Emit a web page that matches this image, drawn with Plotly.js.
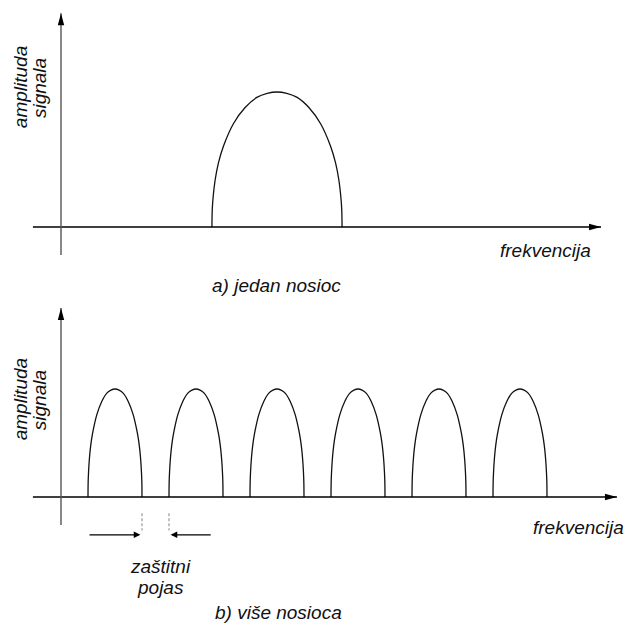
<!DOCTYPE html>
<html>
<head>
<meta charset="utf-8">
<script src="https://cdn.plot.ly/plotly-3.0.1.min.js"></script>
<style>html,body{margin:0;padding:0;background:#fff;}#chart{width:625px;height:627px;}</style>
</head>
<body>
<div id="chart"></div>
<script>
// ---- data (frequency units: 1 = guard-band width; amplitude: bottom carrier peak = 1) ----
// normalised hump profile (offset from centre / half-width, relative amplitude)
const profileU = [-1, -0.995, -0.98, -0.95, -0.9, -0.826, -0.67, -0.49, -0.31, -0.15, 0, 0.15, 0.31, 0.49, 0.67, 0.826, 0.9, 0.95, 0.98, 0.995, 1];
const profileH = [0, 0.13, 0.23, 0.35, 0.475, 0.595, 0.765, 0.885, 0.96, 0.99, 1, 0.99, 0.96, 0.885, 0.765, 0.595, 0.475, 0.35, 0.23, 0.13, 0];

// a) single carrier
const singleCenter = [8.0];
const singleHalfWidth = 2.41;
const singleAmplitude = 1.25;

// b) multiple carriers
const multiCenters = [2, 5, 8, 11, 14, 17];
const multiHalfWidth = 1.0;
const multiAmplitude = 1.0;

// guard band edges
const guardBand = [3, 4];

// axis extents
const freqAxisStart = [-1.04, -1.04];
const freqAxisEnd = [20.0, 20.59];
const ampAxisTop = [1.98, 1.75];
const ampAxisBottom = [-0.26, -0.26];

// texts
const freqLabel = 'frekvencija';
const ampLabel = ['amplituda', 'signala'];
const captionA = 'a) jedan nosioc';
const captionB = 'b) više nosioca';
const guardLabel = ['zaštitni', 'pojas'];

// ---- build traces ----
function hump(center, hw, amp, yaxis) {
  return {
    type: 'scatter', mode: 'lines', xaxis: 'x', yaxis: yaxis,
    x: profileU.map(u => center + u * hw),
    y: profileH.map(h => h * amp),
    line: {color: '#111', width: 1.3, shape: 'spline', smoothing: 0.8},
    hoverinfo: 'skip', showlegend: false
  };
}
const traces = [];
singleCenter.forEach(c => traces.push(hump(c, singleHalfWidth, singleAmplitude, 'y')));
multiCenters.forEach(c => traces.push(hump(c, multiHalfWidth, multiAmplitude, 'y2')));

// ---- shapes: axes with arrowheads ----
const shapes = [];
const yrefs = ['y', 'y2'];
for (let i = 0; i < 2; i++) {
  const yr = yrefs[i];
  // frequency axis
  shapes.push({type: 'line', xref: 'x', yref: yr, x0: freqAxisStart[i], x1: freqAxisEnd[i], y0: 0, y1: 0,
    line: {color: '#000', width: 1.3}});
  shapes.push({type: 'path', xref: 'x', yref: yr, xsizemode: 'pixel', ysizemode: 'pixel',
    xanchor: freqAxisEnd[i], yanchor: 0, path: 'M0,0 L-12,3.2 L-12,-3.2 Z',
    fillcolor: '#000', line: {width: 0}});
  // amplitude axis
  shapes.push({type: 'line', xref: 'x', yref: yr, x0: 0, x1: 0, y0: ampAxisBottom[i], y1: ampAxisTop[i],
    line: {color: '#555', width: 1.4}});
  shapes.push({type: 'path', xref: 'x', yref: yr, xsizemode: 'pixel', ysizemode: 'pixel',
    xanchor: 0, yanchor: ampAxisTop[i], path: 'M0,0 L-3.2,-12 L3.2,-12 Z',
    fillcolor: '#000', line: {width: 0}});
}
// guard band dashed markers
guardBand.forEach(g => shapes.push({type: 'line', xref: 'x', yref: 'y2', x0: g, x1: g, y0: -0.15, y1: -0.31,
  line: {color: '#999', width: 1.2, dash: '3px,2px'}}));

// guard band arrows (pointing inward)
const annotations = [
  {xref: 'x', yref: 'y2', axref: 'x', ayref: 'y2', x: guardBand[0] - 0.06, y: -0.35, ax: guardBand[0] - 2.0, ay: -0.35,
   showarrow: true, arrowhead: 2, arrowsize: 1.1, arrowwidth: 1.2, arrowcolor: '#000', text: ''},
  {xref: 'x', yref: 'y2', axref: 'x', ayref: 'y2', x: guardBand[1] + 0.06, y: -0.35, ax: guardBand[1] + 1.6, ay: -0.35,
   showarrow: true, arrowhead: 2, arrowsize: 1.1, arrowwidth: 1.2, arrowcolor: '#000', text: ''}
];

const fnt = {family: 'Liberation Sans, Arial, sans-serif', size: 19, color: '#111', style: 'italic'};
function txt(x, yref, y, text, angle) {
  return {xref: 'x', yref: yref, x: x, y: y, text: text, showarrow: false, font: fnt,
    textangle: angle || 0, xanchor: 'center', yanchor: 'middle'};
}
annotations.push(txt(17.93, 'y', -0.22, freqLabel));
annotations.push(txt(19.15, 'y2', -0.28, freqLabel));
annotations.push(txt(7.98, 'y', -0.545, captionA));
annotations.push(txt(8.04, 'y2', -1.065, captionB));
annotations.push(txt(3.67, 'y2', -0.64, guardLabel[0]));
annotations.push(txt(3.67, 'y2', -0.84, guardLabel[1]));
annotations.push(txt(-1.5, 'y', 1.29, ampLabel[0], -90));
annotations.push(txt(-0.8, 'y', 1.29, ampLabel[1], -90));
annotations.push(txt(-1.5, 'y2', 0.90, ampLabel[0], -90));
annotations.push(txt(-0.8, 'y2', 0.90, ampLabel[1], -90));

const layout = {
  width: 625, height: 627,
  margin: {l: 0, r: 0, t: 0, b: 0, pad: 0},
  paper_bgcolor: '#fff', plot_bgcolor: '#fff',
  showlegend: false,
  xaxis: {range: [-61 / 27, 564 / 27], visible: false, fixedrange: true},
  yaxis: {range: [-400 / 108, 227 / 108], visible: false, fixedrange: true},
  yaxis2: {range: [-130 / 108, 497 / 108], visible: false, overlaying: 'y', fixedrange: true},
  shapes: shapes,
  annotations: annotations
};

Plotly.newPlot('chart', traces, layout, {staticPlot: true, displayModeBar: false});
</script>
</body>
</html>
